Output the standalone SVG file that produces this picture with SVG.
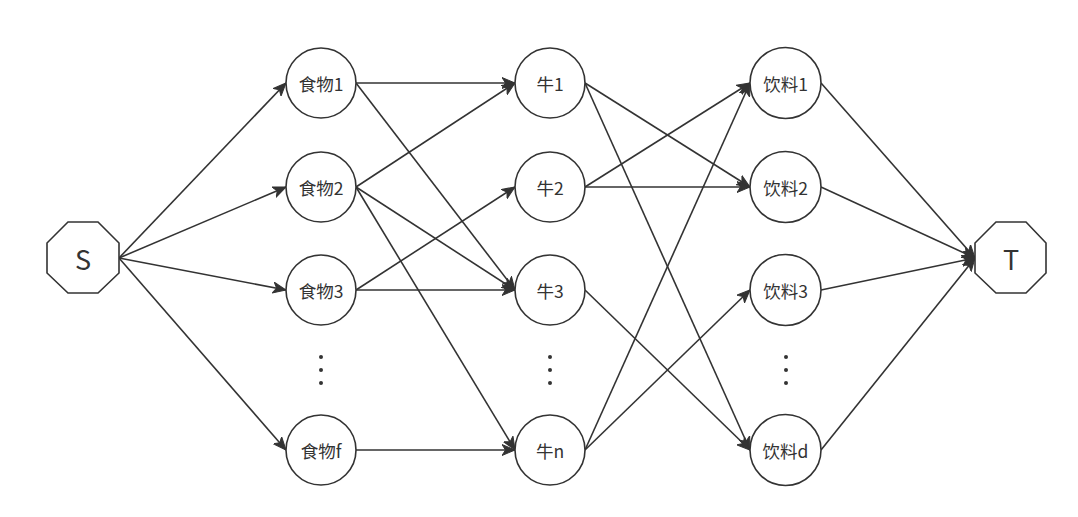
<svg xmlns="http://www.w3.org/2000/svg" width="1078" height="517" viewBox="0 0 1078 517">
<defs>
<marker id="arr" markerUnits="userSpaceOnUse" markerWidth="14" markerHeight="12" viewBox="0 0 14 12" refX="13" refY="6" orient="auto">
<path d="M0,0.5 L13,6 L0,11.5 L3.5,6 Z" fill="#333333" stroke="#333333" stroke-width="1"/>
</marker>
</defs>
<style>
.n{fill:#ffffff;stroke:#333333;stroke-width:1.6}
.t{font-family:"Noto Sans CJK SC","Microsoft YaHei",sans-serif;font-size:17.5px;fill:#333333;text-anchor:middle;dominant-baseline:central}
.big{font-size:27px}
.e{stroke:#333333;stroke-width:1.6;fill:none;marker-end:url(#arr)}
.d{fill:#333333}
</style>
<rect width="1078" height="517" fill="#ffffff"/>
<g id="connectors">
<line class="e" x1="119" y1="258" x2="286" y2="83"/>
<line class="e" x1="119" y1="258" x2="286" y2="187"/>
<line class="e" x1="119" y1="258" x2="286" y2="290"/>
<line class="e" x1="119" y1="258" x2="286" y2="450"/>
<line class="e" x1="356" y1="83" x2="515" y2="83"/>
<line class="e" x1="356" y1="83" x2="515" y2="290"/>
<line class="e" x1="356" y1="187" x2="515" y2="83"/>
<line class="e" x1="356" y1="187" x2="515" y2="290"/>
<line class="e" x1="356" y1="187" x2="515" y2="450"/>
<line class="e" x1="356" y1="290" x2="515" y2="187"/>
<line class="e" x1="356" y1="290" x2="515" y2="290"/>
<line class="e" x1="356" y1="450" x2="515" y2="450"/>
<line class="e" x1="585" y1="83" x2="750" y2="187"/>
<line class="e" x1="585" y1="83" x2="750" y2="450"/>
<line class="e" x1="585" y1="187" x2="750" y2="83"/>
<line class="e" x1="585" y1="187" x2="750" y2="187"/>
<line class="e" x1="585" y1="290" x2="750" y2="450"/>
<line class="e" x1="585" y1="450" x2="750" y2="83"/>
<line class="e" x1="585" y1="450" x2="750" y2="290"/>
<line class="e" x1="821" y1="83" x2="975" y2="258"/>
<line class="e" x1="821" y1="187" x2="975" y2="258"/>
<line class="e" x1="821" y1="290" x2="975" y2="258"/>
<line class="e" x1="821" y1="450" x2="975" y2="258"/>
</g>
<g id="S"><polygon class="n" points="68,222 98,222 119,243 119,273 98,293 68,293 47,273 47,243"/><text class="t big" x="83" y="258">S</text></g>
<g id="T"><polygon class="n" points="996,222 1026,222 1046,243 1046,273 1026,293 996,293 975,273 975,243"/><text class="t big" x="1011" y="258">T</text></g>
<g id="food1"><circle class="n" cx="321" cy="83" r="35"/><text class="t" x="321" y="83">食物1</text></g>
<g id="food2"><circle class="n" cx="321" cy="187" r="35"/><text class="t" x="321" y="187">食物2</text></g>
<g id="food3"><circle class="n" cx="321" cy="290" r="35"/><text class="t" x="321" y="290">食物3</text></g>
<g id="foodf"><circle class="n" cx="321" cy="450" r="35"/><text class="t" x="321" y="450">食物f</text></g>
<g id="cow1"><circle class="n" cx="550" cy="83" r="35"/><text class="t" x="550" y="83">牛1</text></g>
<g id="cow2"><circle class="n" cx="550" cy="187" r="35"/><text class="t" x="550" y="187">牛2</text></g>
<g id="cow3"><circle class="n" cx="550" cy="290" r="35"/><text class="t" x="550" y="290">牛3</text></g>
<g id="cown"><circle class="n" cx="550" cy="450" r="35"/><text class="t" x="550" y="450">牛n</text></g>
<g id="drink1"><circle class="n" cx="785.5" cy="83" r="35.5"/><text class="t" x="785.5" y="83">饮料1</text></g>
<g id="drink2"><circle class="n" cx="785.5" cy="187" r="35.5"/><text class="t" x="785.5" y="187">饮料2</text></g>
<g id="drink3"><circle class="n" cx="785.5" cy="290" r="35.5"/><text class="t" x="785.5" y="290">饮料3</text></g>
<g id="drinkd"><circle class="n" cx="785.5" cy="450" r="35.5"/><text class="t" x="785.5" y="450">饮料d</text></g>
<g id="dots">
<circle class="d" cx="321" cy="357" r="2"/><circle class="d" cx="321" cy="370" r="2"/><circle class="d" cx="321" cy="383" r="2"/>
<circle class="d" cx="550" cy="357" r="2"/><circle class="d" cx="550" cy="370" r="2"/><circle class="d" cx="550" cy="383" r="2"/>
<circle class="d" cx="786" cy="357" r="2"/><circle class="d" cx="786" cy="370" r="2"/><circle class="d" cx="786" cy="383" r="2"/>
</g>
</svg>
